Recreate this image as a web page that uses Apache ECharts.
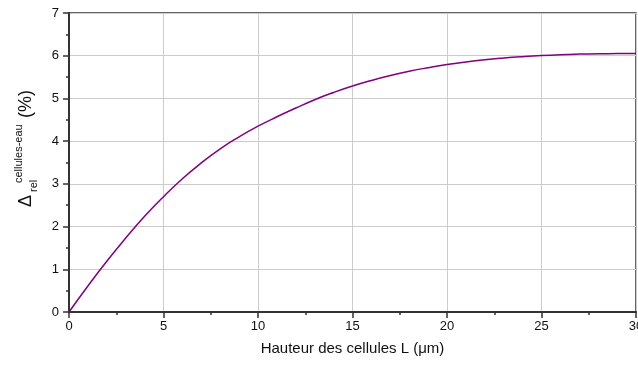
<!DOCTYPE html>
<html>
<head>
<meta charset="utf-8">
<script src="https://cdn.jsdelivr.net/npm/echarts@6/dist/echarts.min.js"></script>
<style>html,body{margin:0;padding:0;background:#fff;}#c{width:638px;height:365px;}</style>
</head>
<body>
<div id="c"></div>
<script>
const heights = [0,1,2,3,4,5,6,7,8,9,10,11,12,13,14,15,16,17,18,19,20,21,22,23,24,25,26,27,28,29,30];
const delta = [0,0.61,1.19,1.73,2.24,2.70,3.12,3.49,3.82,4.10,4.35,4.57,4.775,4.97,5.14,5.29,5.42,5.535,5.635,5.72,5.795,5.855,5.905,5.945,5.978,6.005,6.025,6.038,6.046,6.05,6.052];
const xTicks = [0,5,10,15,20,25,30];
const yTicks = [0,1,2,3,4,5,6,7];
const xTitle = 'Hauteur des cellules L (μm)';

const chart = echarts.init(document.getElementById('c'), null, {renderer:'canvas'});
const font = 'Liberation Sans, Arial, sans-serif';
const axisCol = '#333';
chart.setOption({
  animation:false,
  backgroundColor:'#fff',
  grid:{left:69,right:2,top:13,bottom:53,containLabel:false,outerBoundsMode:'none',show:true,borderColor:axisCol,borderWidth:1.5,backgroundColor:'transparent'},
  xAxis:{
    type:'value',min:xTicks[0],max:xTicks[xTicks.length-1],interval:5,
    name:xTitle,nameLocation:'middle',nameGap:29,
    nameTextStyle:{fontFamily:font,fontSize:15,color:'#111'},
    axisLine:{show:true,onZero:false,lineStyle:{color:axisCol,width:2}},
    axisTick:{show:true,inside:false,length:6,lineStyle:{color:axisCol,width:1.5}},
    minorTick:{show:true,splitNumber:2,length:3,lineStyle:{color:axisCol,width:1.5}},
    splitLine:{show:true,lineStyle:{color:'#cccccc',width:1}},
    axisLabel:{fontFamily:font,fontSize:13,color:'#111',margin:8,hideOverlap:false}
  },
  yAxis:{
    type:'value',min:yTicks[0],max:yTicks[yTicks.length-1],interval:1,
    axisLine:{show:true,onZero:false,lineStyle:{color:axisCol,width:2}},
    axisTick:{show:true,inside:false,length:6,lineStyle:{color:axisCol,width:1.5}},
    minorTick:{show:true,splitNumber:2,length:3,lineStyle:{color:axisCol,width:1.5}},
    splitLine:{show:true,lineStyle:{color:'#cccccc',width:1}},
    axisLabel:{fontFamily:font,fontSize:13,color:'#111',margin:10}
  },
  graphic:[{
    type:'group',x:26,y:207,rotation:Math.PI/2,
    children:[
      {type:'text',x:0,y:0,style:{text:'Δ',font:'18px '+font,fill:'#111',align:'left',verticalAlign:'middle'}},
      {type:'text',x:15,y:8,style:{text:'rel',font:'11px '+font,fill:'#111',align:'left',verticalAlign:'middle'}},
      {type:'text',x:24,y:-7.5,style:{text:'cellules-eau',font:'11px '+font,fill:'#111',align:'left',verticalAlign:'middle'}},
      {type:'text',x:89,y:0,style:{text:'(%)',font:'18px '+font,fill:'#111',align:'left',verticalAlign:'middle'}}
    ]
  }],
  series:[{
    type:'line',
    data:heights.map((h,i)=>[h,delta[i]]),
    showSymbol:false,smooth:0.5,
    lineStyle:{color:'#800080',width:1.5},
    z:3
  }]
});
</script>
</body>
</html>
